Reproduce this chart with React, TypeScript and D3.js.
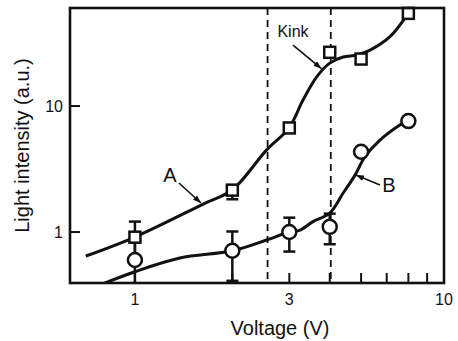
import React from "react";
import * as d3 from "d3";

// ---- data ----
const xDomain = [0.63, 9.02];
const yDomain = [0.394, 60];
const xTickLabels = [
  { v: 1, label: "1" },
  { v: 3, label: "3" },
  { v: 10, label: "10" },
];
const xMinorTicks = [1, 2, 3, 4, 5, 6, 7, 8];
const yTickLabels = [
  { v: 1, label: "1" },
  { v: 10, label: "10" },
];

const seriesAX = [1, 2, 3, 4, 5, 7];
const seriesAY = [0.91, 2.15, 6.7, 26.7, 23.6, 54.4];
const seriesALow = [0.61, 1.82, null, null, null, null];
const seriesAHigh = [1.21, 2.3, null, null, null, null];

const seriesBX = [1, 2, 3, 4, 5, 7];
const seriesBY = [0.6, 0.71, 1.0, 1.1, 4.34, 7.6];
const seriesBLow = [0.3, 0.41, 0.7, 0.8, null, null];
const seriesBHigh = [0.9, 1.01, 1.3, 1.4, null, null];

// guide curves (hand-drawn fits in the figure)
const curveAX = [0.705, 1, 1.62, 1.995, 2.55, 2.99, 3.31, 3.65, 4.0, 4.4, 4.85, 5.33, 6.14, 6.93];
const curveAY = [0.645, 0.913, 1.66, 2.154, 4.47, 6.69, 11.2, 17.1, 21.9, 24.5, 25.4, 27.8, 35.5, 52.7];
const curveBX = [0.78, 1, 1.377, 2.0, 2.55, 3.0, 3.24, 3.55, 4.0, 4.4, 4.79, 5.14, 5.72, 6.59, 6.93];
const curveBY = [0.38, 0.484, 0.622, 0.71, 0.864, 1.0, 1.037, 1.21, 1.415, 2.04, 2.83, 3.96, 5.37, 7.07, 7.6];

const dashedX = [2.57, 4.03];

const annotations = [
  { label: "A", tx: 1.283, ty: 2.83, x1: 1.368, y1: 2.45, x2: 1.6, y2: 1.7, size: 20 },
  { label: "Kink", tx: 3.08, ty: 38.7, x1: 3.08, y1: 30.5, x2: 3.77, y2: 19.8, size: 16 },
  { label: "B", tx: 6.1, ty: 2.36, x1: 5.72, y1: 2.36, x2: 4.82, y2: 2.83, size: 20 },
];

const W = 458;
const H = 341;
const L = 70, R = 444, T = 8, B = 283;
const FONT = "'Liberation Sans', Arial, Helvetica, sans-serif";

export default function App() {
  const x = d3.scaleLog().domain(xDomain).range([L, R]);
  const y = d3.scaleLog().domain(yDomain).range([B, T]);
  const line = d3
    .line<[number, number]>()
    .x((d) => x(d[0]))
    .y((d) => y(d[1]))
    .curve(d3.curveCatmullRom.alpha(0.5));
  const ptsA = curveAX.map((v, i) => [v, curveAY[i]] as [number, number]);
  const ptsB = curveBX.map((v, i) => [v, curveBY[i]] as [number, number]);
  const xEnd = (v: number) => x(Math.min(v, xDomain[1]));
  const cap = 6;

  const errBars = (xs: number[], lo: (number | null)[], hi: (number | null)[], key: string) =>
    xs.map((xv, i) => {
      const l = lo[i], h = hi[i];
      if (l == null || h == null) return null;
      const px = x(xv);
      return (
        <g key={key + i}>
          <line x1={px} x2={px} y1={y(l)} y2={y(h)} stroke="#111" strokeWidth={2.5} />
          <line x1={px - cap} x2={px + cap} y1={y(l)} y2={y(l)} stroke="#111" strokeWidth={2.5} />
          <line x1={px - cap} x2={px + cap} y1={y(h)} y2={y(h)} stroke="#111" strokeWidth={2.5} />
        </g>
      );
    });

  return (
    <svg
      width={W}
      height={H}
      style={{ position: "absolute", left: 0, top: 0, background: "#fff" }}
      fontFamily={FONT}
    >
      <defs>
        <clipPath id="plot">
          <rect x={L} y={T} width={R - L} height={B - T} />
        </clipPath>
        <marker id="arr" viewBox="0 0 8 6" refX={8} refY={3} markerWidth={8} markerHeight={6} markerUnits="userSpaceOnUse" orient="auto">
          <path d="M0,0 L8,3 L0,6 z" fill="#111" />
        </marker>
      </defs>
      <rect x={0} y={0} width={W} height={H} fill="#fff" />

      {/* dashed guide lines */}
      {dashedX.map((v, i) => (
        <line key={"d" + i} x1={x(v)} x2={x(v)} y1={T} y2={B} stroke="#111" strokeWidth={1.8} strokeDasharray="7,5" />
      ))}

      {/* ticks */}
      {xMinorTicks.map((v, i) => (
        <line key={"xt" + i} x1={x(v)} x2={x(v)} y1={B} y2={B - 10} stroke="#111" strokeWidth={2} />
      ))}
      {yTickLabels.map((t, i) => (
        <line key={"yt" + i} x1={L} x2={L + 10} y1={y(t.v)} y2={y(t.v)} stroke="#111" strokeWidth={2} />
      ))}

      <g clipPath="url(#plot)">
        <path d={line(ptsA) || ""} fill="none" stroke="#111" strokeWidth={3} />
        <path d={line(ptsB) || ""} fill="none" stroke="#111" strokeWidth={3} />
        {errBars(seriesAX, seriesALow, seriesAHigh, "ea")}
        {errBars(seriesBX, seriesBLow, seriesBHigh, "eb")}
      </g>

      {/* markers */}
      {seriesBX.map((v, i) => (
        <circle key={"c" + i} cx={x(v)} cy={y(seriesBY[i])} r={7} fill="#fff" stroke="#111" strokeWidth={2.5} />
      ))}
      {seriesAX.map((v, i) => (
        <rect key={"s" + i} x={x(v) - 5.5} y={y(seriesAY[i]) - 5.5} width={11} height={11} fill="#fff" stroke="#111" strokeWidth={2.5} />
      ))}

      {/* frame */}
      <rect x={L} y={T} width={R - L} height={B - T} fill="none" stroke="#111" strokeWidth={2.6} />

      {/* annotations */}
      {annotations.map((a, i) => (
        <g key={"a" + i}>
          <line x1={x(a.x1)} y1={y(a.y1)} x2={x(a.x2)} y2={y(a.y2)} stroke="#111" strokeWidth={1.6} markerEnd="url(#arr)" />
          <text x={x(a.tx)} y={y(a.ty)} fontSize={a.size} textAnchor="middle" dominantBaseline="central" fill="#111">
            {a.label}
          </text>
        </g>
      ))}

      {/* tick labels */}
      {xTickLabels.map((t, i) => (
        <text key={"xl" + i} x={xEnd(t.v)} y={B + 16} fontSize={16} textAnchor="middle" dominantBaseline="central" fill="#111">
          {t.label}
        </text>
      ))}
      {yTickLabels.map((t, i) => (
        <text key={"yl" + i} x={L - 7} y={y(t.v)} fontSize={16} textAnchor="end" dominantBaseline="central" fill="#111">
          {t.label}
        </text>
      ))}

      {/* axis titles */}
      <text x={(L + R) / 2 + 23} y={B + 45} fontSize={20} textAnchor="middle" dominantBaseline="central" fill="#111">
        Voltage (V)
      </text>
      <text
        transform={`translate(22, ${(T + B) / 2}) rotate(-90)`}
        fontSize={20}
        textAnchor="middle"
        dominantBaseline="central"
        fill="#111"
      >
        Light intensity (a.u.)
      </text>
    </svg>
  );
}
